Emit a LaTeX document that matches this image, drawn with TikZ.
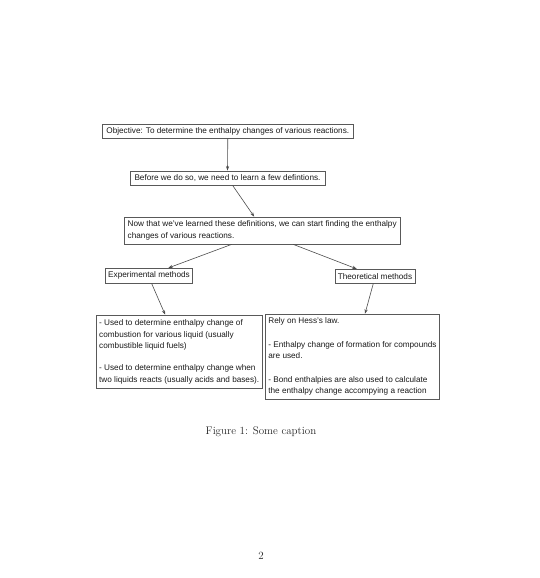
\documentclass[tikz,border=0pt]{standalone}
\usepackage{fontspec}
\setsansfont{Liberation Sans}
\usepackage{tikz}
\usetikzlibrary{arrows.meta,positioning}
\tikzset{
  base/.style={font=\sffamily\fontsize{8.2}{11.7}\selectfont, text=black!90, inner xsep=2.5pt, inner ysep=1.5pt},
  textbox/.style={base, rectangle, draw=black!65, line width=0.7pt, minimum height=14pt},
  notebox/.style={textbox, align=left},
  line/.style={-{Stealth[length=4.5pt,width=3.2pt]}, draw=black!70, line width=0.6pt}
}

\begin{document}
\begin{tikzpicture}[x=1pt, y=-1pt]
  \useasboundingbox (0,0) rectangle (540,578);

  % Top: aim and definitions
  \node[textbox, minimum width=251pt] (obj) at (227.8,130.9) {Objective: To determine the enthalpy changes of various reactions.};
  \node[textbox, minimum width=195pt] (defs) at (227.5,177.9) {Before we do so, we need to learn a few defintions.};
  \node[notebox, minimum width=275.7pt, minimum height=27pt] (start) at (262.2,230.5) {Now that we've learned these definitions, we can start finding the enthalpy\\changes of various reactions.};

  % Middle: the two kinds of method
  \node[textbox, minimum width=86.6pt, minimum height=15pt] (expt) at (149,275.8) {Experimental methods};
  \node[textbox, minimum width=80pt] (theo) at (375,276.2) {Theoretical methods};

  % Bottom: details
  \node[notebox, minimum width=166.3pt, minimum height=73.3pt] (exptinfo) at (179.2,351.7) {- Used to determine enthalpy change of\\combustion for various liquid (usually\\combustible liquid fuels)\\[10pt]- Used to determine enthalpy change when\\two liquids reacts (usually acids and bases).};
  \node[notebox, minimum width=173.6pt, minimum height=85.3pt] (theoinfo) at (352.5,356.7) {Rely on Hess's law.\\[11.7pt]- Enthalpy change of formation for compounds\\are used.\\[11.7pt]- Bond enthalpies are also used to calculate\\the enthalpy change accompying a reaction};

  % Edges
  \draw[line] (obj.south) -- (defs.north);
  \draw[line] ([xshift=5pt]defs.south) -- ([xshift=-8pt]start.north);
  \draw[line] ([xshift=-30.5pt]start.south) -- ([xshift=19.3pt]expt.north);
  \draw[line] ([xshift=31pt]start.south) -- ([xshift=-18.3pt]theo.north);
  \draw[line] ([xshift=2.7pt]expt.south) -- ([xshift=-14pt]exptinfo.north);
  \draw[line] ([xshift=-1.7pt]theo.south) -- ([xshift=12.5pt]theoinfo.north);

  % Caption and page number
  \node[font=\fontsize{11}{13}\selectfont, text=black!85] (caption) at (261,432) {Figure 1: Some caption};
  \node[font=\fontsize{11}{13}\selectfont, text=black!85] (pagenum) at (261,556) {2};
\end{tikzpicture}
\end{document}
